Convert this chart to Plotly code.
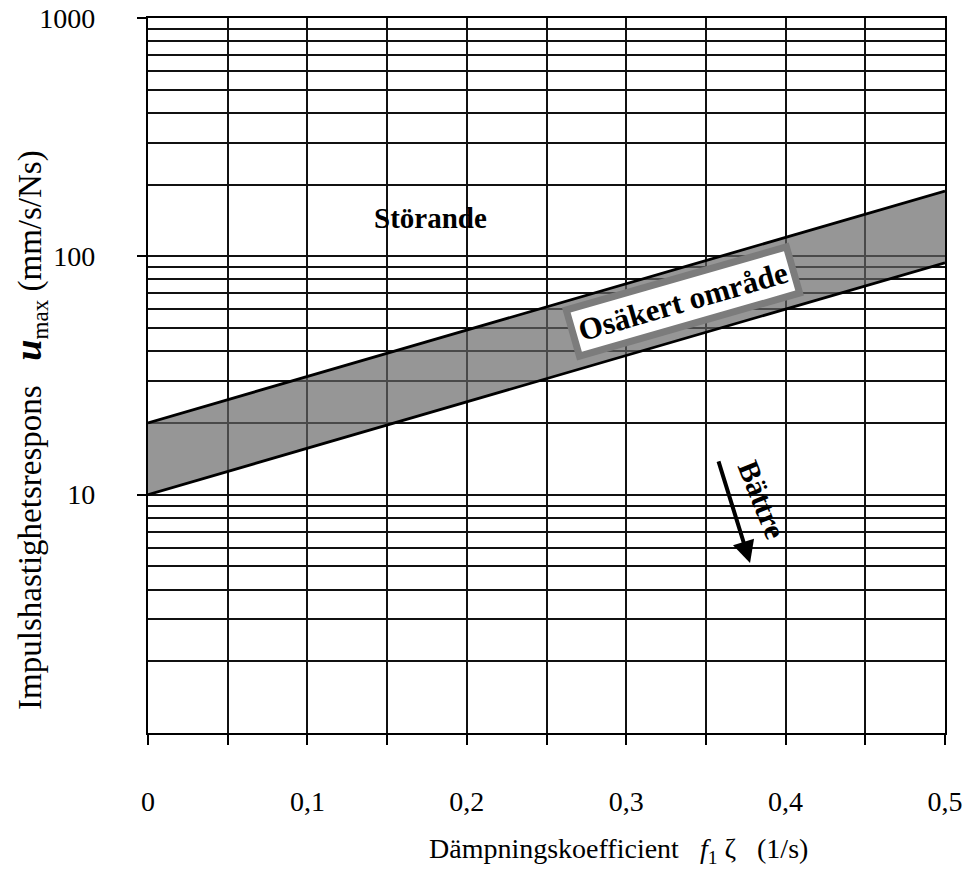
import plotly.graph_objects as go
import numpy as np

# Data
x_band = [0.0, 0.5]
lower_band = [10.0, 94.0]
upper_band = [20.0, 188.0]

x_tickvals = [0.0, 0.05, 0.1, 0.15, 0.2, 0.25, 0.3, 0.35, 0.4, 0.45, 0.5]
x_ticktext = ["0", "", "0,1", "", "0,2", "", "0,3", "", "0,4", "", "0,5"]
y_major = [10, 100, 1000]
y_major_text = ["10", "100", "1000"]
y_minor = [m * d for d in (1, 10, 100) for m in range(2, 10)]

FONT = "Liberation Serif, Times New Roman, serif"
GRID = "#111111"

fig = go.Figure()
fig.add_trace(go.Scatter(x=x_band, y=lower_band, mode="lines",
                         line=dict(color="black", width=2.8),
                         hoverinfo="skip", showlegend=False))
fig.add_trace(go.Scatter(x=x_band, y=upper_band, mode="lines",
                         line=dict(color="black", width=2.8),
                         fill="tonexty", fillcolor="rgba(100,100,100,0.68)",
                         hoverinfo="skip", showlegend=False))

fig.update_layout(
    width=963, height=880,
    margin=dict(l=148, r=18, t=18, b=147, autoexpand=False),
    paper_bgcolor="white", plot_bgcolor="white",
    font=dict(family=FONT, size=28, color="black"),
    xaxis=dict(range=[0, 0.5], tickmode="array", tickvals=x_tickvals,
               ticktext=x_ticktext, ticks="outside", ticklen=10, tickwidth=2,
               tickcolor="black", showgrid=True, gridcolor=GRID, gridwidth=2,
               showline=True, linecolor="black", linewidth=2.2, mirror=True,
               zeroline=False, ticklabelstandoff=32, automargin=False,
               ticklabeloverflow="allow",
               tickfont=dict(family=FONT, size=28, color="black")),
    yaxis=dict(type="log", range=[0, 3], tickmode="array", tickvals=y_major,
               ticktext=y_major_text, ticks="outside", ticklen=9, tickwidth=2,
               tickcolor="black", showgrid=True, gridcolor=GRID, gridwidth=2,
               showline=True, linecolor="black", linewidth=2.2, mirror=True,
               zeroline=False, ticklabelstandoff=36, automargin=False,
               ticklabeloverflow="allow",
               tickfont=dict(family=FONT, size=28, color="black"),
               minor=dict(tickmode="array", tickvals=y_minor, showgrid=True,
                          gridcolor=GRID, gridwidth=1.8, ticks="")),
)

# Axis titles
fig.add_annotation(xref="paper", yref="paper", x=0.59, y=-0.165,
                   text="Dämpningskoefficient\u00a0\u00a0\u00a0<i>f</i><sub>1</sub>\u00a0ζ\u00a0\u00a0\u00a0(1/s)",
                   showarrow=False, font=dict(family=FONT, size=28, color="black"),
                   xanchor="center", yanchor="middle")
fig.add_annotation(xref="paper", yref="paper", x=-0.148, y=0.424,
                   text="Impulshastighetsrespons\u00a0\u00a0\u00a0<b><i><span style='font-size:38px'>u</span></i></b><sub>max</sub>\u00a0(mm/s/Ns)",
                   showarrow=False, textangle=-90,
                   font=dict(family=FONT, size=33, color="black"),
                   xanchor="center", yanchor="middle")

# In-plot labels (y given in log10 units for the log axis)
fig.add_annotation(x=0.177, y=np.log10(145), text="<b>Störande</b>",
                   showarrow=False, font=dict(family=FONT, size=29, color="black"))
fig.add_annotation(x=0.3356, y=np.log10(64.5), text="<b>Osäkert område</b>",
                   showarrow=False, textangle=-16,
                   font=dict(family=FONT, size=31, color="black"),
                   bgcolor="white", bordercolor="#7c7c7c", borderwidth=7, borderpad=3)
fig.add_annotation(x=0.3850, y=np.log10(9.5), text="<b>Bättre</b>",
                   showarrow=False, textangle=68,
                   font=dict(family=FONT, size=30, color="black"))
fig.add_annotation(x=0.3777, y=np.log10(5.17), ax=-32, ay=-103,
                   text="", showarrow=True, arrowhead=2, arrowsize=1.1,
                   arrowwidth=4, arrowcolor="black")

fig.write_html("out.html",
               config={"displayModeBar": False},
               post_script="document.body.style.margin='0';document.body.style.overflow='hidden';")
